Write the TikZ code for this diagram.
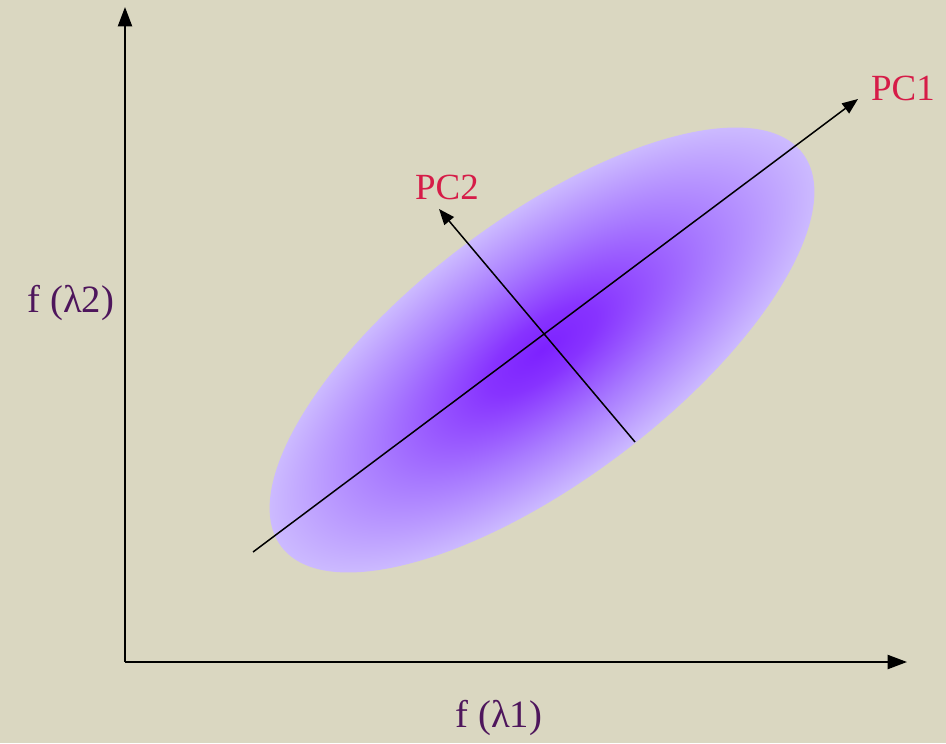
\documentclass[tikz,border=0pt]{standalone}
\usepackage{fontspec}
\setmainfont{Liberation Serif}
\usepackage{xcolor}
\usepackage{tikz}
\usetikzlibrary{positioning, calc, arrows.meta}

\definecolor{paper}{RGB}{218,215,193}
\definecolor{pcred}{RGB}{214,28,72}
\definecolor{axislabel}{RGB}{78,22,92}
\pgfdeclareradialshading{pcglow}{\pgfpoint{0bp}{0bp}}{%
  rgb(0bp)=(0.49,0.13,1);
  rgb(5bp)=(0.53,0.2,1);
  rgb(15bp)=(0.66,0.48,1);
  rgb(25bp)=(0.8,0.73,1);
  rgb(35bp)=(0.93,0.92,1);
  rgb(50bp)=(0.93,0.92,1)}

\tikzset{
  axisline/.style={line width=1.1pt, -{Triangle[length=11pt, width=8pt]}},
  pcline/.style={line width=0.85pt, -{Triangle[length=9pt, width=7pt]}},
  pclabel/.style={text=pcred, font=\fontsize{21}{25}\selectfont, inner sep=0pt},
  axlabel/.style={text=axislabel, font=\fontsize{22}{26}\selectfont, inner sep=0pt}
}

\begin{document}
\begin{tikzpicture}

    % Paper background, fixes the margins
    \fill[paper] (0,0) rectangle (18.92,14.86);
    \useasboundingbox (0,0) rectangle (18.92,14.86);

    % Data cloud: glowing ellipse along the first component
    \begin{scope}[transform canvas={shift={(10.84,7.86)}, rotate=37}]
        \shade[shading=pcglow] (0,0) ellipse (6.53 and 2.61);
    \end{scope}

    % Axes
    \coordinate (origin) at (2.5,1.62);
    \coordinate (ytip) at (2.5,14.72);
    \coordinate (xtip) at (18.14,1.62);
    \draw[axisline] (origin) -- (ytip);
    \draw[axisline] (origin) -- (xtip);

    % Principal component directions
    \coordinate (pc1tail) at (5.06,3.82);
    \coordinate (pc1head) at (17.16,12.88);
    \coordinate (pc2tail) at (12.7,6.02);
    \coordinate (pc2head) at (8.78,10.68);
    \draw[pcline] (pc1tail) -- (pc1head);
    \draw[pcline] (pc2tail) -- (pc2head);

    % Labels
    \node[pclabel] (pc1) at (18.06,13.1) {PC1};
    \node[pclabel] (pc2) at (8.94,11.12) {PC2};
    \node[axlabel] (fl2) at (1.42,8.8) {f (λ2)};
    \node[axlabel] (fl1) at (9.98,0.5) {f (λ1)};

\end{tikzpicture}
\end{document}
